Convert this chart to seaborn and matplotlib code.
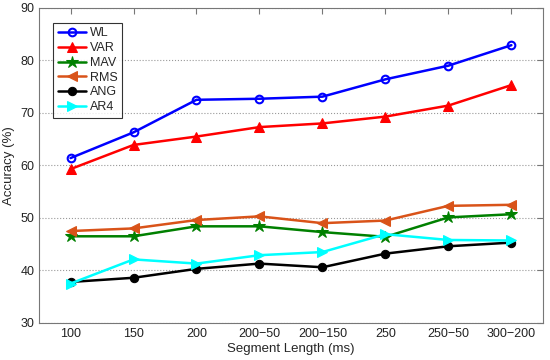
import pandas as pd
import numpy as np
import matplotlib
matplotlib.use("Agg")
import matplotlib.pyplot as plt
import seaborn as sns

#Data
segments = ['100', '150', '200', '200\u221250', '200\u2212150', '250', '250\u221250', '300\u2212200']
wl = [61.4, 66.3, 72.5, 72.7, 73.1, 76.4, 79.0, 82.9]
var = [59.3, 63.9, 65.5, 67.3, 68.0, 69.3, 71.4, 75.3]
mav = [46.5, 46.5, 48.4, 48.4, 47.3, 46.4, 50.1, 50.7]
rms = [47.5, 48.0, 49.6, 50.3, 49.0, 49.5, 52.3, 52.5]
ang = [37.8, 38.6, 40.3, 41.3, 40.6, 43.2, 44.6, 45.3]
ar4 = [37.5, 42.1, 41.3, 42.9, 43.5, 46.9, 45.8, 45.7]

series_names = ['WL', 'VAR', 'MAV', 'RMS', 'ANG', 'AR4']
series_vals = [wl, var, mav, rms, ang, ar4]
colors = ['#0000ff', '#ff0000', '#008000', '#d95319', '#000000', '#00ffff']
markers = ['o', '^', '*', '<', 'o', '>']
msizes = [5.5, 7, 9, 7, 6, 7.5]

sns.set_style("white")
plt.rcParams['font.family'] = ['Liberation Sans', 'DejaVu Sans']

fig = plt.figure(figsize=(5.5, 3.6), dpi=100)
ax = fig.add_axes([0.071, 0.103, 0.916, 0.875])

x_idx = np.arange(len(segments))
for name, vals, c, m, ms in zip(series_names, series_vals, colors, markers, msizes):
    df = pd.DataFrame({'x': x_idx, 'y': vals})
    kw = dict(marker=m, markersize=ms, color=c, linewidth=1.8, label=name,
              markeredgecolor=c)
    if name == 'WL':
        kw['markerfacecolor'] = 'none'
        kw['markeredgewidth'] = 1.5
    else:
        kw['markerfacecolor'] = c
    sns.lineplot(data=df, x='x', y='y', ax=ax, **kw)

ax.set_xlim(-0.5, 7.5)
ax.set_ylim(30, 90)
ax.set_xticks(x_idx)
ax.set_xticklabels(segments)
ax.set_yticks(np.arange(30, 91, 10))
ax.yaxis.grid(True, linestyle=':', color='#999999', linewidth=0.8)
ax.xaxis.grid(False)
ax.tick_params(direction='in', top=True, right=True, length=4, color='#777777',
               labelsize=9, labelcolor='#222222')
for sp in ax.spines.values():
    sp.set_color('#777777')
    sp.set_linewidth(0.8)

ax.set_xlabel('Segment Length (ms)', fontsize=9.5, labelpad=2)
ax.set_ylabel('Accuracy (%)', fontsize=9.5, labelpad=4)

leg = ax.legend(loc='upper left', bbox_to_anchor=(0.028, 0.952), borderaxespad=0,
                fontsize=9, frameon=True, fancybox=False, edgecolor='black',
                handlelength=2.3, borderpad=0.35, labelspacing=0.22,
                handletextpad=0.3)
leg.get_frame().set_linewidth(0.8)

fig.savefig('out.png', dpi=100)
